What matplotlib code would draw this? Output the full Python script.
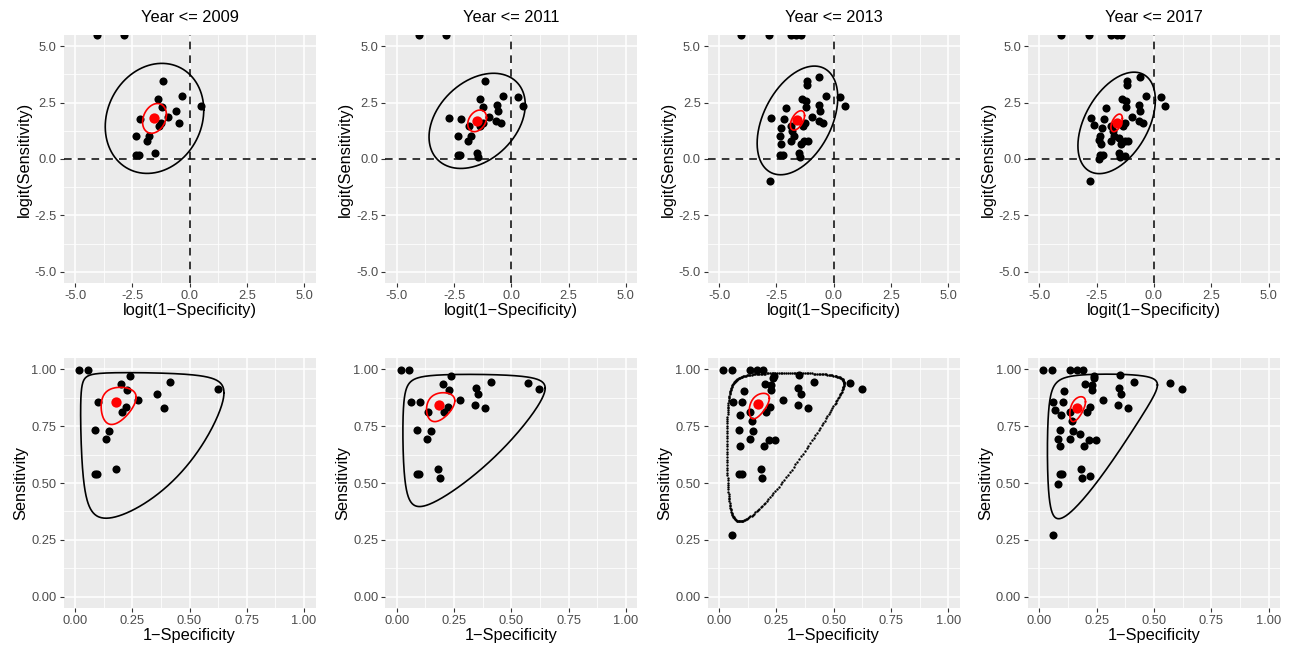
"""
Regiones de confianza y prediccion (bivariado) por año acumulado
Fila de arriba: escala logit. Fila de abajo: escala de probabilidad.
"""

import numpy as np
import matplotlib.pyplot as plt

plt.rcParams['font.family'] = ['Liberation Sans', 'DejaVu Sans']

# datos (en escala logit): estudios nuevos por periodo, se acumulan
titulos = ["Year <= 2009", "Year <= 2011", "Year <= 2013", "Year <= 2017"]

x_2009 = [-4.04, -2.84, -1.16, -0.35, 0.50, -1.38, -1.22, -0.59, -2.18, -0.96,
          -0.46, -1.25, -1.35, -2.34, -1.75, -1.87, -2.34, -2.22, -1.51]
y_2009 = [5.5, 5.5, 3.45, 2.80, 2.35, 2.68, 2.29, 2.11, 1.77, 1.85,
          1.60, 1.61, 1.47, 1.01, 1.00, 0.81, 0.16, 0.16, 0.25]

x_2011 = [0.29, -0.64, -2.74, -0.65, -1.86, -1.47]
y_2011 = [2.75, 2.40, 1.80, 1.70, 1.46, 0.08]

x_2013 = [-1.86, -1.63, -1.44, -0.62, -1.17, -1.22, -2.10, -2.28, -1.80,
          -2.32, -1.42, -1.28, -1.12, -2.80]
y_2013 = [5.5, 5.5, 5.5, 3.63, 3.27, 2.58, 2.28, 1.38, 1.22,
          0.67, 0.67, 0.80, 0.80, -0.99]

x_2017 = [-2.63, -2.42, -1.54, -1.27, -2.42]
y_2017 = [1.52, 0.82, 0.92, 0.12, -0.01]

# punto resumen y elipses (centro, desv. en x, desv. en y, correlacion)
resumen_x = [-1.53, -1.49, -1.58, -1.63]
resumen_y = [1.80, 1.69, 1.71, 1.60]
pred_sx = [2.15, 2.10, 1.76, 1.69]
pred_sy = [2.44, 2.11, 2.41, 2.25]
pred_rho = [0.15, 0.34, 0.42, 0.45]
conf_sx = [0.52, 0.41, 0.31, 0.25]
conf_sy = [0.66, 0.48, 0.43, 0.39]
conf_rho = [0.25, 0.30, 0.50, 0.50]

ticks_logit = [-5, -2.5, 0, 2.5, 5]
labels_logit = ["-5.0", "-2.5", "0.0", "2.5", "5.0"]
ticks_prob = [0, 0.25, 0.5, 0.75, 1.0]
labels_prob = ["0.00", "0.25", "0.50", "0.75", "1.00"]


def expit(v):
    return 1 / (1 + np.exp(-np.asarray(v)))


def elipse(cx, cy, sx, sy, rho, n=400):
    t = np.linspace(0, 2 * np.pi, n)
    ex = cx + sx * np.cos(t)
    ey = cy + sy * (rho * np.cos(t) + np.sqrt(1 - rho ** 2) * np.sin(t))
    return ex, ey


def estilo(ax, ticks, labels, lim, minors):
    ax.set_facecolor("#EBEBEB")
    for s in ax.spines.values():
        s.set_visible(False)
    ax.set_xlim(lim)
    ax.set_ylim(lim)
    ax.set_xticks(ticks)
    ax.set_yticks(ticks)
    ax.set_xticklabels(labels)
    ax.set_yticklabels(labels)
    ax.set_xticks(minors, minor=True)
    ax.set_yticks(minors, minor=True)
    ax.tick_params(which="major", length=3, width=0.8, color="#333333",
                   labelsize=9.3, labelcolor="#4D4D4D", pad=2)
    ax.tick_params(which="minor", length=0)
    ax.grid(which="major", color="white", lw=1.1)
    ax.grid(which="minor", color="white", lw=0.55)
    ax.set_axisbelow(True)


fig = plt.figure(figsize=(12.89, 6.51), dpi=100)

lefts = [0.0493, 0.2989, 0.549, 0.7975]
ancho = 0.1955

grupos_x = [x_2009, x_2011, x_2013, x_2017]
grupos_y = [y_2009, y_2011, y_2013, y_2017]

for i in range(4):
    px = np.concatenate(grupos_x[:i + 1])
    py = np.concatenate(grupos_y[:i + 1])

    pex, pey = elipse(resumen_x[i], resumen_y[i], pred_sx[i], pred_sy[i], pred_rho[i])
    cex, cey = elipse(resumen_x[i], resumen_y[i], conf_sx[i], conf_sy[i], conf_rho[i])

    # fila de arriba: logit
    ax = fig.add_axes([lefts[i], 0.5653, ancho, 0.381])
    estilo(ax, ticks_logit, labels_logit, (-5.5, 5.5), [-3.75, -1.25, 1.25, 3.75])
    ax.axhline(0, color="black", lw=1.1, ls=(0, (5, 4)), zorder=2)
    ax.axvline(0, color="black", lw=1.1, ls=(0, (5, 4)), zorder=2)
    ax.scatter(px, py, s=34, color="black", lw=0, zorder=3)
    ax.plot(pex, pey, color="black", lw=1.2, zorder=4)
    ax.plot(cex, cey, color="red", lw=1.2, zorder=5)
    ax.scatter(resumen_x[i], resumen_y[i], s=55, color="red", lw=0, zorder=6)
    ax.set_title(titulos[i], fontsize=11.8, pad=9)
    ax.set_xlabel("logit(1\u2212Specificity)", fontsize=11.8, labelpad=1)
    ax.set_ylabel("logit(Sensitivity)", fontsize=11.8, labelpad=2)

    # fila de abajo: probabilidad
    ax = fig.add_axes([lefts[i], 0.066, ancho, 0.384])
    estilo(ax, ticks_prob, labels_prob, (-0.05, 1.05), [0.125, 0.375, 0.625, 0.875])
    ax.scatter(expit(px), expit(py), s=34, color="black", lw=0, zorder=3)
    if i == 2:
        dx, dy = elipse(resumen_x[i], resumen_y[i], pred_sx[i], pred_sy[i], pred_rho[i], n=260)
        ax.scatter(expit(dx), expit(dy), s=3, color="black", lw=0, zorder=4)
    else:
        ax.plot(expit(pex), expit(pey), color="black", lw=1.2, zorder=4)
    ax.plot(expit(cex), expit(cey), color="red", lw=1.2, zorder=5)
    ax.scatter(expit(resumen_x[i]), expit(resumen_y[i]), s=55, color="red", lw=0, zorder=6)
    ax.set_xlabel("1\u2212Specificity", fontsize=11.8, labelpad=1)
    ax.set_ylabel("Sensitivity", fontsize=11.8, labelpad=2)

fig.savefig("out.png", dpi=100)
